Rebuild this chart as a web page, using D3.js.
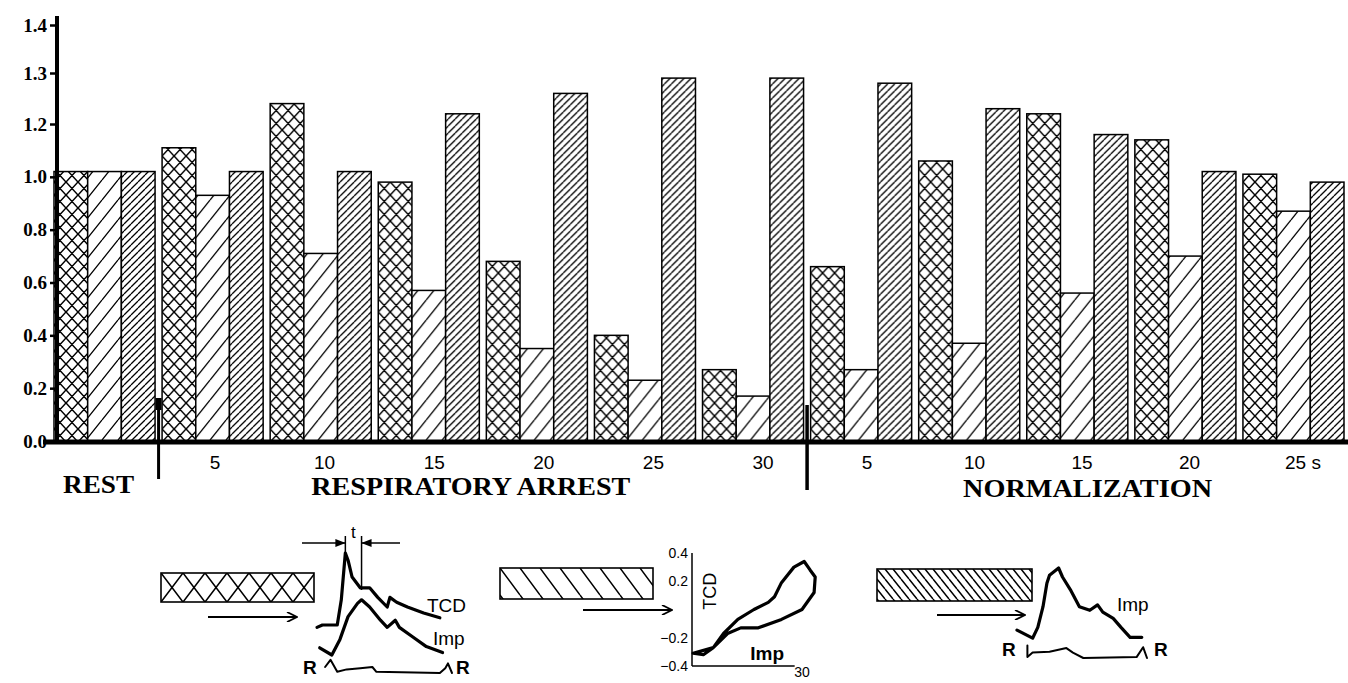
<!DOCTYPE html>
<html>
<head>
<meta charset="utf-8">
<script src="https://cdn.jsdelivr.net/npm/d3@7"></script>
<style>
  body { margin: 0; background: #fff; }
  svg { display: block; }
</style>
</head>
<body>
<svg id="chart"></svg>
<script>
// ---- data ----
const groups = ["rest", "a5", "a10", "a15", "a20", "a25", "a30", "n5", "n10", "n15", "n20", "n25"];
const series = ["cross", "wide", "dense"];
const crossVals = [1.02, 1.11, 1.24, 0.98, 0.68, 0.40, 0.27, 0.66, 1.06, 1.22, 1.14, 1.01];
const wideVals = [1.02, 0.93, 0.71, 0.57, 0.35, 0.23, 0.17, 0.27, 0.37, 0.56, 0.70, 0.87];
const denseVals = [1.02, 1.02, 1.02, 1.22, 1.26, 1.29, 1.29, 1.28, 1.23, 1.16, 1.02, 0.98];
const yTicks = [0, 0.2, 0.4, 0.6, 0.8, 1.0, 1.2, 1.3, 1.4];
const arrestTicks = [5, 10, 15, 20, 25, 30];
const normTicks = [5, 10, 15, 20, 25];
const phases = ["REST", "RESPIRATORY ARREST", "NORMALIZATION"];

// inset sketches, [time 0..1, amplitude 0..1]
const tcdWave = [[0, 0.38], [0.04, 0.40], [0.15, 0.40], [0.18, 0.61], [0.21, 1.0], [0.23, 0.94], [0.26, 0.80], [0.32, 0.71], [0.39, 0.71], [0.45, 0.63], [0.52, 0.55], [0.54, 0.63], [0.59, 0.59], [0.67, 0.55], [0.79, 0.50], [0.91, 0.46]];
const impWave1 = [[0.02, 0.21], [0.11, 0.15], [0.17, 0.28], [0.23, 0.47], [0.30, 0.58], [0.33, 0.61], [0.39, 0.55], [0.47, 0.44], [0.52, 0.38], [0.58, 0.44], [0.61, 0.38], [0.71, 0.30], [0.81, 0.22], [0.93, 0.17]];
const rWave1 = [[0.06, 0.05], [0.10, 0.11], [0.15, 0.01], [0.22, 0.03], [0.32, 0.04], [0.41, 0.05], [0.44, 0.01], [0.91, 0], [0.95, 0.04], [0.97, 0.08], [1.0, 0]];
const impWave3 = [[0, 0.31], [0.12, 0.22], [0.16, 0.34], [0.20, 0.57], [0.23, 0.83], [0.25, 0.92], [0.32, 1.0], [0.35, 0.90], [0.41, 0.76], [0.48, 0.57], [0.56, 0.53], [0.62, 0.59], [0.66, 0.51], [0.74, 0.44], [0.80, 0.34], [0.87, 0.23], [0.96, 0.23]];
const rWave3 = [[0.08, 0.14], [0.08, 0.01], [0.12, 0.06], [0.25, 0.07], [0.38, 0.11], [0.43, 0.06], [0.51, 0], [0.92, 0.01], [0.97, 0.12], [1.0, 0]];
// TCD versus Imp loop, [Imp, TCD]
const loopPts = [[0.3, -0.31], [3.1, -0.32], [5.8, -0.27], [8.6, -0.17], [12.5, -0.07], [16.9, 0.0], [20.8, 0.05], [22.5, 0.09], [24.4, 0.19], [27.8, 0.30], [30.6, 0.34], [32.2, 0.28], [33.6, 0.23], [33.3, 0.12], [30.0, 0.0], [24.4, -0.07], [18.1, -0.13], [13.3, -0.13], [9.7, -0.17], [5.8, -0.27]];
const loopTicks = [0.4, 0.2, -0.2, -0.4];

const width = 1348;
const height = 683;
const svg = d3.select("#chart").attr("width", width).attr("height", height);

// hatch patterns
const defs = svg.append("defs");
function addPattern(id, w, h, dirs, sw, ox = 0, oy = 0) {
    const p = defs.append("pattern")
        .attr("id", id)
        .attr("patternUnits", "userSpaceOnUse")
        .attr("width", w).attr("height", h)
        .attr("x", ox).attr("y", oy);
    p.append("rect").attr("width", w).attr("height", h).attr("fill", "#fff");
    let d = "";
    if (dirs.includes("/")) d += `M0,${h}L${w},0M${-w},${h}L0,0M${w},${h}L${2 * w},0`;
    if (dirs.includes("\\")) d += `M0,0L${w},${h}M${-w},0L0,${h}M${w},0L${2 * w},${h}`;
    p.append("path").attr("d", d).attr("fill", "none")
        .attr("stroke", "#000").attr("stroke-width", sw);
}
addPattern("pCross", 12, 13, "/\\", 1.5);
addPattern("pWide", 16, 20, "/", 1.3);
addPattern("pDense", 7, 7, "/", 1.3);
addPattern("lCross", 22, 29, "/\\", 1.6, 161, 573);
addPattern("lBack", 20, 27, "\\", 1.5, 500, 568);
addPattern("lDense", 8, 10, "\\", 1.5, 877, 569);

// arrow markers
defs.append("marker").attr("id", "openArrow")
    .attr("viewBox", "0 0 12 10").attr("refX", 11).attr("refY", 5)
    .attr("markerWidth", 12).attr("markerHeight", 10).attr("markerUnits", "userSpaceOnUse")
    .attr("orient", "auto")
    .append("path").attr("d", "M1,0L11,5L1,10").attr("fill", "none")
    .attr("stroke", "#000").attr("stroke-width", 1.8);
defs.append("marker").attr("id", "solidArrow")
    .attr("viewBox", "0 0 10 8").attr("refX", 10).attr("refY", 4)
    .attr("markerWidth", 10).attr("markerHeight", 8).attr("markerUnits", "userSpaceOnUse")
    .attr("orient", "auto")
    .append("path").attr("d", "M0,0L10,4L0,8Z").attr("fill", "#000");

// scales
const x0 = d3.scaleBand().domain(groups).range([54, 1344]).paddingInner(0.065);
const x1 = d3.scaleBand().domain(series).range([0, x0.bandwidth()]);
const y = d3.scaleLinear().domain([0, 1.2, 1.3, 1.4]).range([441, 124, 73, 25]);

const valuesBy = { cross: crossVals, wide: wideVals, dense: denseVals };
const fills = { cross: "url(#pCross)", wide: "url(#pWide)", dense: "url(#pDense)" };

// bars
svg.append("g")
    .selectAll("g")
    .data(groups)
    .join("g")
    .attr("transform", (d) => `translate(${x0(d)},0)`)
    .selectAll("rect")
    .data((g, i) => series.map((s) => ({ s, v: valuesBy[s][i] })))
    .join("rect")
    .attr("x", (d) => x1(d.s))
    .attr("y", (d) => y(d.v))
    .attr("width", x1.bandwidth())
    .attr("height", (d) => y(0) - y(d.v))
    .attr("fill", (d) => fills[d.s])
    .attr("stroke", "#000")
    .attr("stroke-width", 1.5);

// y axis
const axisX = 57;
const yAxis = svg.append("g")
    .attr("transform", `translate(${axisX},0)`)
    .call(d3.axisLeft(y).tickValues(yTicks).tickFormat(d3.format(".1f")).tickSize(7).tickPadding(3));
yAxis.select(".domain").remove();
yAxis.selectAll("line").attr("stroke", "#000").attr("stroke-width", 2.5);
yAxis.selectAll("text")
    .attr("font-family", "Liberation Serif")
    .attr("font-weight", "bold")
    .attr("font-size", 19)
    .attr("fill", "#000");
svg.append("line")
    .attr("x1", axisX).attr("x2", axisX)
    .attr("y1", 16).attr("y2", y(0) + 2)
    .attr("stroke", "#000").attr("stroke-width", 4);

// x base line
svg.append("line")
    .attr("x1", 43).attr("x2", width)
    .attr("y1", y(0) + 1).attr("y2", y(0) + 1)
    .attr("stroke", "#000").attr("stroke-width", 5);

// phase separators
const sep1 = (x0("rest") + x0.bandwidth() + x0("a5")) / 2;
const sep2 = (x0("a30") + x0.bandwidth() + x0("n5")) / 2;
svg.append("line").attr("x1", sep1).attr("x2", sep1).attr("y1", 398).attr("y2", 479)
    .attr("stroke", "#000").attr("stroke-width", 3);
svg.append("rect").attr("x", sep1 - 3).attr("y", 398).attr("width", 6).attr("height", 12).attr("fill", "#000");
svg.append("line").attr("x1", sep2).attr("x2", sep2).attr("y1", 405).attr("y2", 490)
    .attr("stroke", "#000").attr("stroke-width", 3.5);

// time tick labels
const tArrest = d3.scaleLinear().domain([5, 30]).range([215, 763]);
const tNorm = d3.scaleLinear().domain([5, 25]).range([867, 1297]);
const tickFont = (sel) => sel
    .attr("font-family", "Liberation Sans")
    .attr("font-size", 19)
    .attr("text-anchor", "middle")
    .attr("fill", "#000");
svg.append("g").selectAll("text").data(arrestTicks).join("text")
    .attr("x", (d) => tArrest(d)).attr("y", 469)
    .text((d) => d)
    .call(tickFont);
svg.append("g").selectAll("text").data(normTicks).join("text")
    .attr("x", (d, i) => tNorm(d) + (i === normTicks.length - 1 ? 6 : 0)).attr("y", 469)
    .text((d, i) => (i === normTicks.length - 1 ? d + " s" : d))
    .call(tickFont);

// phase labels
const phaseX = [x0("rest") + x0.bandwidth() / 2 - 6, (sep1 + sep2) / 2 - 12, (sep2 + 1344) / 2 + 12];
const phaseY = [493, 495, 497];
const phaseLen = [71, 319, 249];
svg.append("g").selectAll("text").data(phases).join("text")
    .attr("x", (d, i) => phaseX[i]).attr("y", (d, i) => phaseY[i])
    .attr("text-anchor", "middle")
    .attr("font-family", "Liberation Serif")
    .attr("font-weight", "bold")
    .attr("font-size", 26)
    .attr("textLength", (d, i) => phaseLen[i])
    .attr("lengthAdjust", "spacingAndGlyphs")
    .attr("fill", "#000")
    .text((d) => d);

// ---- insets ----
const ink = (sel, w) => sel.attr("fill", "none").attr("stroke", "#000").attr("stroke-width", w)
    .attr("stroke-linejoin", "round").attr("stroke-linecap", "round");
const label = (x, yy, t, size, bold, anchor = "start") => svg.append("text")
    .attr("x", x).attr("y", yy).attr("font-family", "Liberation Sans")
    .attr("font-size", size).attr("font-weight", bold ? "bold" : "normal")
    .attr("text-anchor", anchor).attr("fill", "#000").text(t);

// legend boxes and arrows
const legendBoxes = [
    { x: 161, y: 573, w: 153, h: 29, fill: "url(#lCross)", ax: [208, 297], ay: 617 },
    { x: 500, y: 568, w: 153, h: 31, fill: "url(#lBack)", ax: [583, 672], ay: 610 },
    { x: 877, y: 569, w: 155, h: 32, fill: "url(#lDense)", ax: [937, 1025], ay: 615 }
];
legendBoxes.forEach((b) => {
    svg.append("rect").attr("x", b.x).attr("y", b.y).attr("width", b.w).attr("height", b.h)
        .attr("fill", b.fill).attr("stroke", "#000").attr("stroke-width", 1.6);
    svg.append("line").attr("x1", b.ax[0]).attr("x2", b.ax[1]).attr("y1", b.ay).attr("y2", b.ay)
        .attr("stroke", "#000").attr("stroke-width", 2).attr("marker-end", "url(#openArrow)");
});

// inset 1: TCD and Imp waves
const i1x = d3.scaleLinear().domain([0, 1]).range([317, 452]);
const i1y = d3.scaleLinear().domain([0, 1]).range([673, 553]);
const line1 = d3.line().x((d) => i1x(d[0])).y((d) => i1y(d[1]));
svg.append("path").attr("d", line1(tcdWave)).call(ink, 3.2);
svg.append("path").attr("d", line1(impWave1)).call(ink, 3.2);
svg.append("path").attr("d", line1(rWave1)).call(ink, 2);
label(427, 612, "TCD", 19, false);
label(433, 645, "Imp", 19, false);
label(303, 674, "R", 19, true);
label(456, 674, "R", 19, true);
// t dimension
const tA = i1x(0.21);
const tB = i1x(0.33);
svg.append("line").attr("x1", tA).attr("x2", tA).attr("y1", 536).attr("y2", i1y(1)).attr("stroke", "#000").attr("stroke-width", 1.5);
svg.append("line").attr("x1", tB).attr("x2", tB).attr("y1", 536).attr("y2", 590).attr("stroke", "#000").attr("stroke-width", 1.5);
svg.append("line").attr("x1", 302).attr("x2", tA).attr("y1", 543).attr("y2", 543)
    .attr("stroke", "#000").attr("stroke-width", 1.5).attr("marker-end", "url(#solidArrow)");
svg.append("line").attr("x1", 400).attr("x2", tB).attr("y1", 543).attr("y2", 543)
    .attr("stroke", "#000").attr("stroke-width", 1.5).attr("marker-end", "url(#solidArrow)");
label((tA + tB) / 2, 538, "t", 17, false, "middle");

// inset 2: TCD vs Imp loop
const lx = d3.scaleLinear().domain([0, 30]).range([692, 802]);
const ly = d3.scaleLinear().domain([-0.4, 0.4]).range([666, 553]);
svg.append("line").attr("x1", lx(0)).attr("x2", lx(0)).attr("y1", ly(0.4)).attr("y2", ly(-0.4))
    .attr("stroke", "#000").attr("stroke-width", 1.5);
svg.append("line").attr("x1", lx(0)).attr("x2", lx(28)).attr("y1", ly(-0.4)).attr("y2", ly(-0.4))
    .attr("stroke", "#000").attr("stroke-width", 1.5);
svg.append("g").selectAll("text").data(loopTicks).join("text")
    .attr("x", lx(0) - 4).attr("y", (d) => ly(d) + 5)
    .attr("text-anchor", "end")
    .attr("font-family", "Liberation Sans").attr("font-size", 14).attr("fill", "#000")
    .text((d) => d3.format(".1f")(d));
svg.append("path")
    .attr("d", d3.line().x((d) => lx(d[0])).y((d) => ly(d[1])).curve(d3.curveLinearClosed)(loopPts))
    .call(ink, 3.2);
svg.append("text")
    .attr("transform", `translate(${lx(0) + 24},${ly(0.13)}) rotate(-90)`)
    .attr("text-anchor", "middle")
    .attr("font-family", "Liberation Sans").attr("font-size", 18).attr("fill", "#000")
    .text("TCD");
label(lx(20.5), 660, "Imp", 19, true, "middle");
label(lx(30), 677, "30", 14, false, "middle");

// inset 3: Imp wave
const i3x = d3.scaleLinear().domain([0, 1]).range([1017, 1147]);
const i3y = d3.scaleLinear().domain([0, 1]).range([658, 568]);
const line3 = d3.line().x((d) => i3x(d[0])).y((d) => i3y(d[1]));
svg.append("path").attr("d", line3(impWave3)).call(ink, 3.2);
svg.append("path").attr("d", line3(rWave3)).call(ink, 2);
label(1117, 611, "Imp", 19, false);
label(1002, 656, "R", 19, true);
label(1154, 656, "R", 19, true);
</script>
</body>
</html>
